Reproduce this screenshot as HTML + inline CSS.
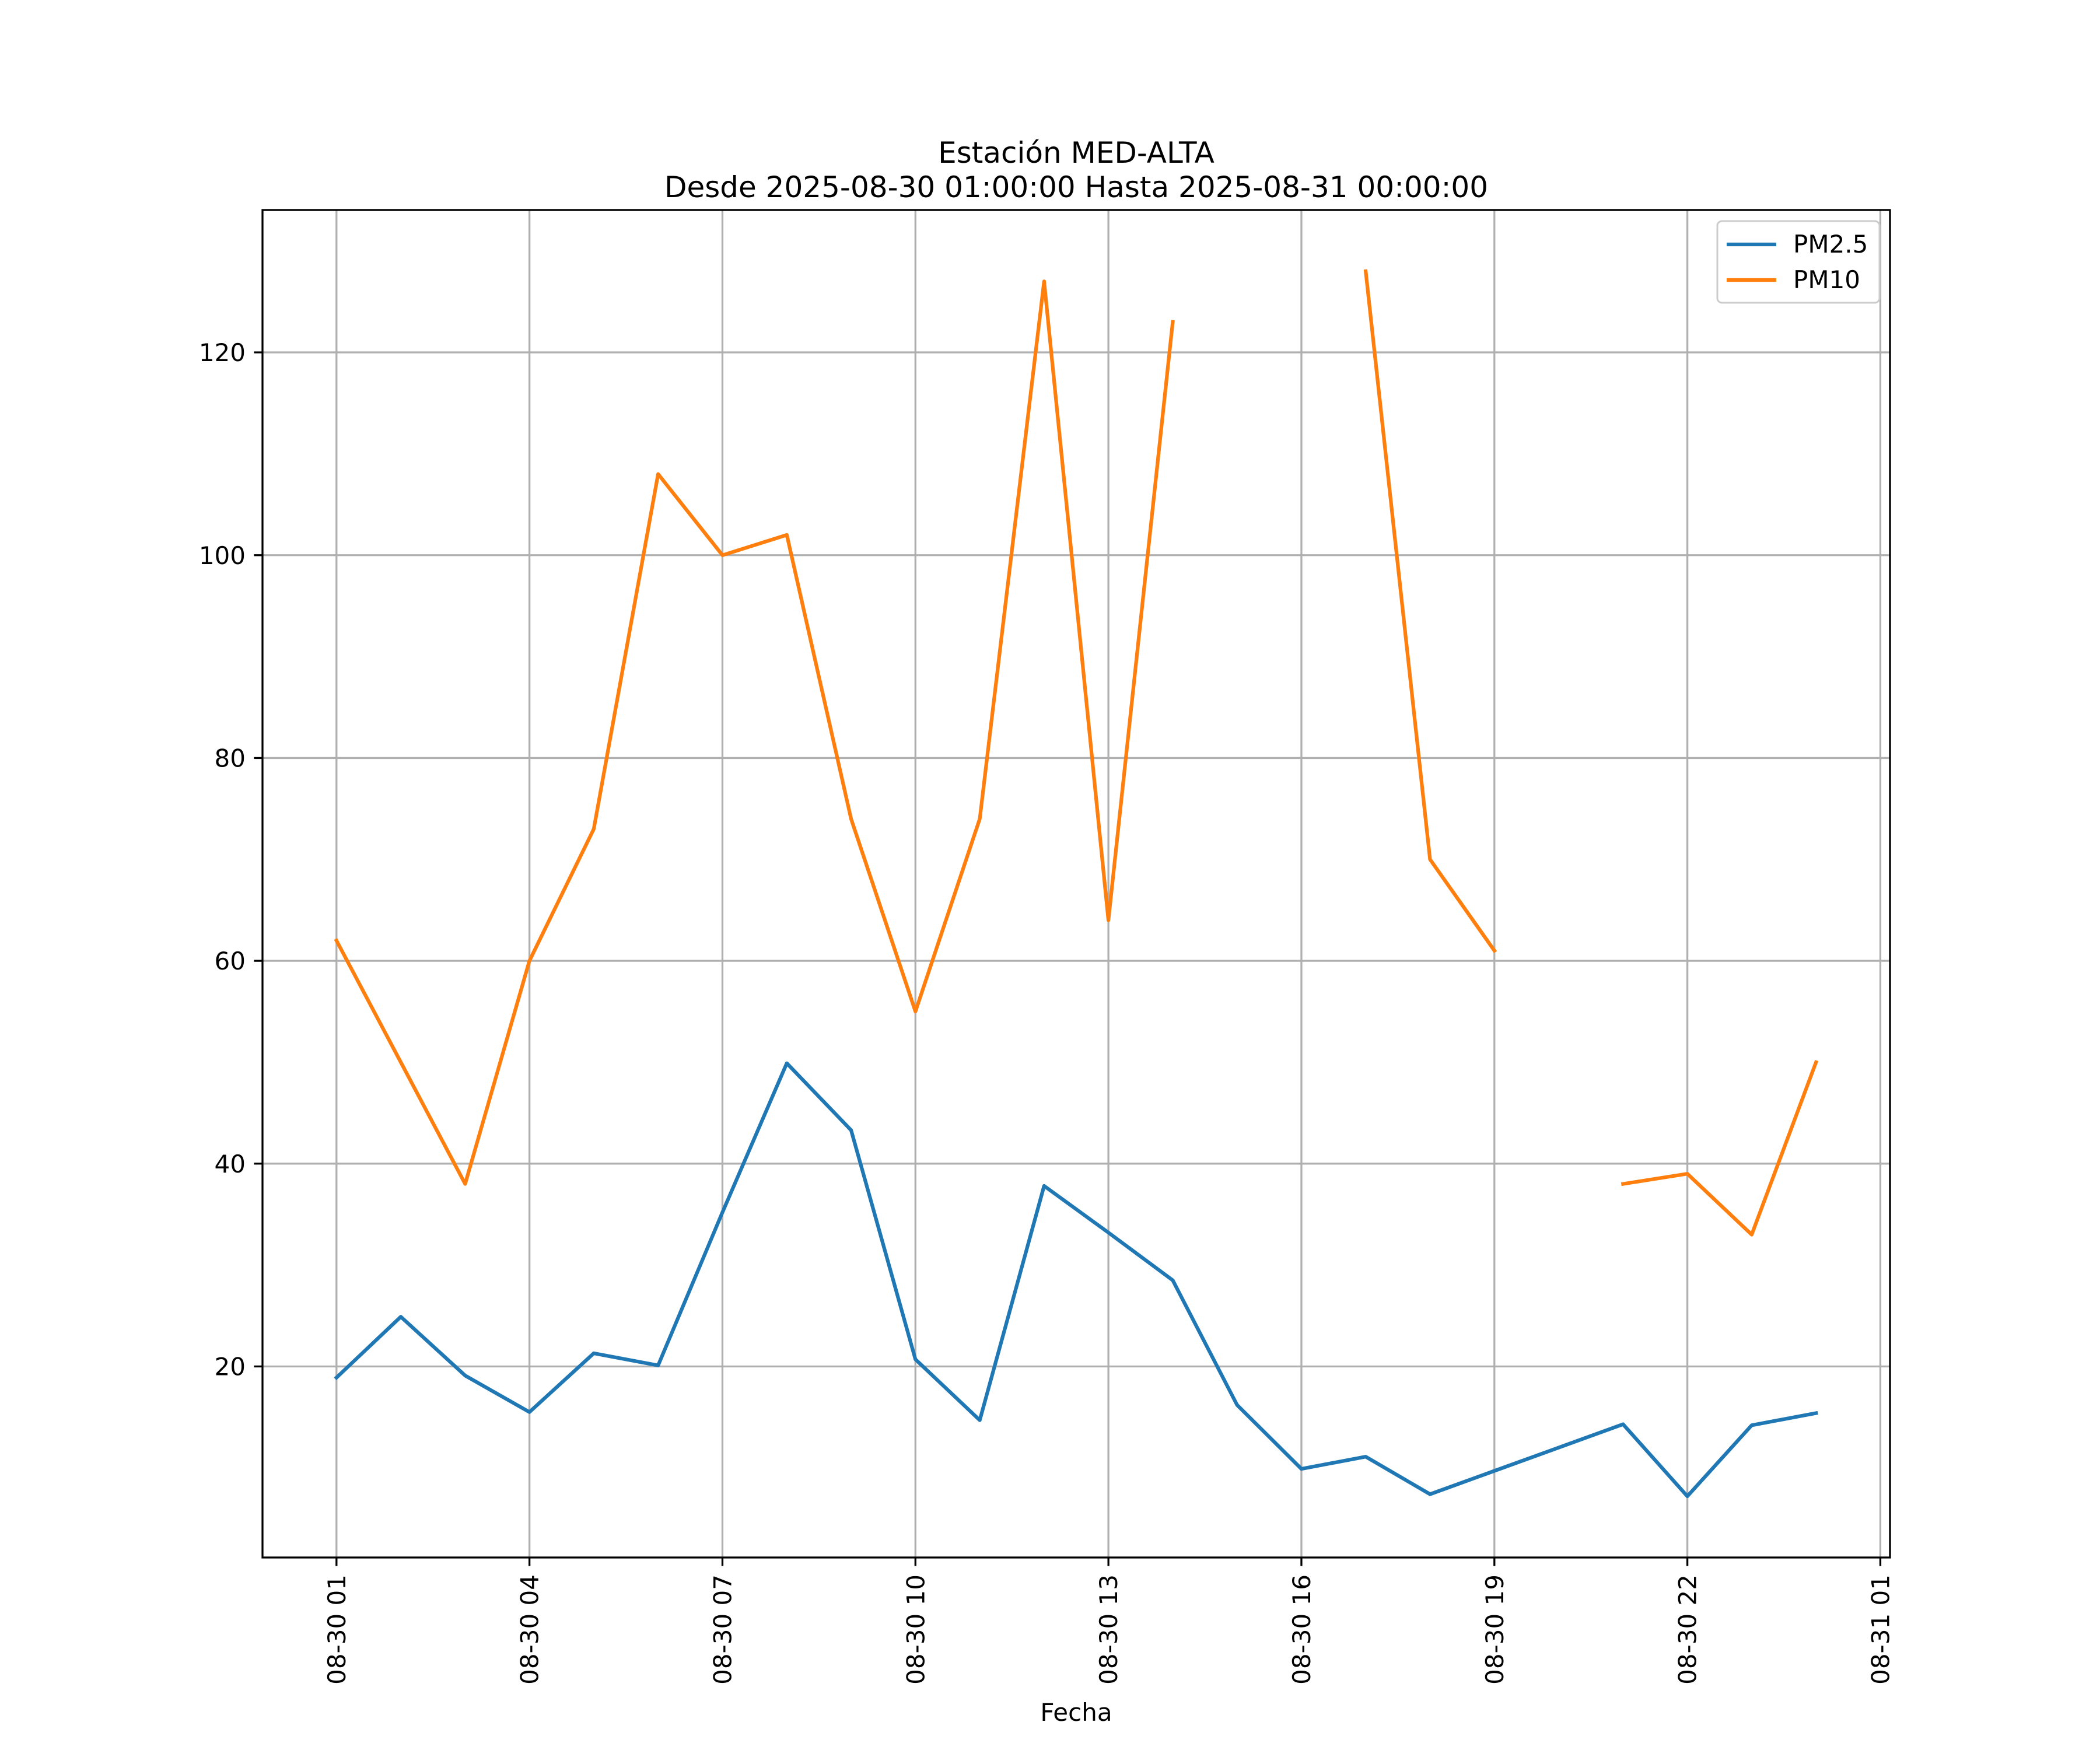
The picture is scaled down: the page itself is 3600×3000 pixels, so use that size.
<!DOCTYPE html>
<html><head><meta charset="utf-8"><style>body{margin:0;background:#fff}svg{display:block}text{font-family:"DejaVu Sans","Liberation Sans",sans-serif;fill:#000}</style></head>
<body>
<svg id="chart" width="3600" height="3000" viewBox="0 0 3600 3000" xmlns="http://www.w3.org/2000/svg">
<rect width="3600" height="3000" fill="#fff"/>
<text x="1845" y="279" font-size="50" text-anchor="middle">Estación MED-ALTA</text>
<text x="1845" y="338" font-size="50" text-anchor="middle">Desde 2025-08-30 01:00:00 Hasta 2025-08-31 00:00:00</text>
<g id="grid"></g><g id="series"></g><g id="axes"></g>
<text x="1845" y="2950" font-size="42" text-anchor="middle">Fecha</text>
<g>
<rect x="2944" y="379" width="278" height="140" rx="8" fill="#fff" fill-opacity="0.8" stroke="#ccc" stroke-width="3"/>
<line x1="2960" y1="419" x2="3045" y2="419" stroke="#1f77b4" stroke-width="6.25"/>
<text x="3074" y="433" font-size="42">PM2.5</text>
<line x1="2960" y1="480" x2="3045" y2="480" stroke="#ff7f0e" stroke-width="6.25"/>
<text x="3074" y="494" font-size="42">PM10</text>
</g>
</svg>
<script>
const hours = [0,1,2,3,4,5,6,7,8,9,10,11,12,13,14,15,16,17,18,19,20,21,22,23];
const pm25 = [18.9,24.9,19.1,15.5,21.3,20.1,35.2,49.9,43.3,20.7,14.7,37.8,33.2,28.5,16.2,9.9,11.1,7.4,9.7,12.0,14.3,7.2,14.2,15.4];
const pm10 = [62,50,38,60,73,108,100,102,74,55,74,127,64,123,null,null,128,70,61,null,38,39,33,50];
const yTicks = [20,40,60,80,100,120];
const xTickHours = [0,3,6,9,12,15,18,21,24];
const xTickLabels = ["08-30 01","08-30 04","08-30 07","08-30 10","08-30 13","08-30 16","08-30 19","08-30 22","08-31 01"];

const L=450,R=3240,T=360,B=2670;
const xMin=-1.15,xMax=24.15,yMin=1.16,yMax=134.04;
const X=h=>L+(h-xMin)/(xMax-xMin)*(R-L);
const Y=v=>B-(v-yMin)/(yMax-yMin)*(B-T);
const NS="http://www.w3.org/2000/svg";
function mk(tag,attrs,parent){const e=document.createElementNS(NS,tag);for(const k in attrs)e.setAttribute(k,attrs[k]);parent.appendChild(e);return e;}
const grid=document.getElementById('grid'),series=document.getElementById('series'),axes=document.getElementById('axes');

yTicks.forEach(v=>{
  const g=mk('line',{x1:L,x2:R,y1:Y(v),y2:Y(v),stroke:'#b0b0b0','stroke-width':3.3},grid);
  
  
  mk('line',{x1:L-14.6,x2:L,y1:Y(v),y2:Y(v),stroke:'#000','stroke-width':3.3},axes);
  const t=mk('text',{x:L-29,y:Y(v)+15,'font-size':42,'text-anchor':'end'},axes);
  t.textContent=v;
  
  
});
xTickHours.forEach((h,i)=>{
  const g=mk('line',{x1:X(h),x2:X(h),y1:T,y2:B,stroke:'#b0b0b0','stroke-width':3.3},grid);
  
  
  mk('line',{x1:X(h),x2:X(h),y1:B,y2:B+14.6,stroke:'#000','stroke-width':3.3},axes);
  const t=mk('text',{x:0,y:0,'font-size':42,'text-anchor':'end',transform:`translate(${X(h)+15},${B+29}) rotate(-90)`},axes);
  t.textContent=xTickLabels[i];
  
  
});
const frame=mk('rect',{x:L,y:T,width:R-L,height:B-T,fill:'none',stroke:'#000','stroke-width':3.3},axes);



function drawSeries(vals,color,name){
  let d='',pen=false;
  vals.forEach((v,i)=>{
    if(v===null){pen=false;return;}
    d+=(pen?'L':'M')+X(hours[i]).toFixed(1)+' '+Y(v).toFixed(1)+' ';pen=true;
  });
  const p=mk('path',{d:d,fill:'none',stroke:color,'stroke-width':6.25,'stroke-linejoin':'round','stroke-linecap':'square'},series);
  
  
}
drawSeries(pm25,'#1f77b4','pm25-line');
drawSeries(pm10,'#ff7f0e','pm10-line');
</script>
</body></html>
